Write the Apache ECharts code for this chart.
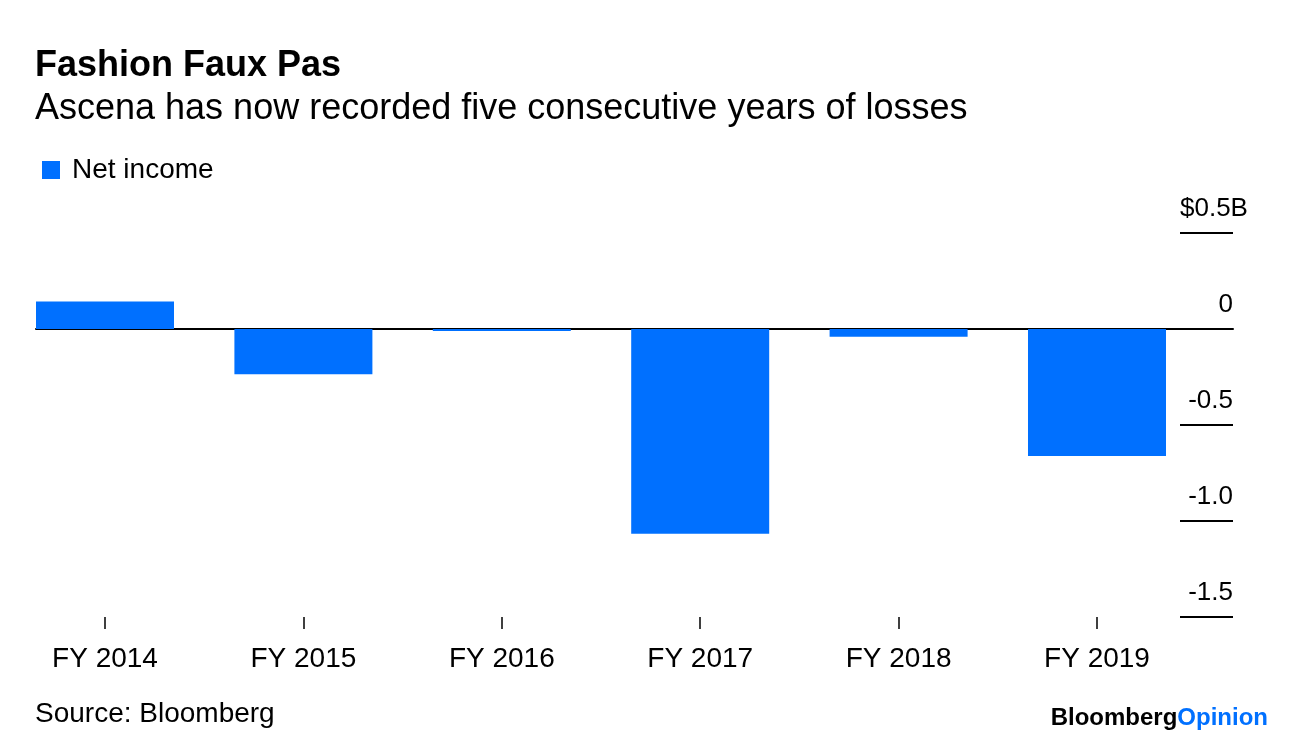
<!DOCTYPE html>
<html>
<head>
<meta charset="utf-8">
<script src="https://cdn.jsdelivr.net/npm/echarts@6/dist/echarts.min.js"></script>
<style>html,body{margin:0;padding:0;background:#fff}#c{width:1296px;height:740px}</style>
</head>
<body>
<div id="c"></div>
<script>
const categories = ['FY 2014', 'FY 2015', 'FY 2016', 'FY 2017', 'FY 2018', 'FY 2019'];
const netIncome = [0.143, -0.236, -0.011, -1.067, -0.040, -0.661];
const yTicks = [-1.5, -1.0, -0.5, 0, 0.5];
const yTickLabels = ['-1.5', '-1.0', '-0.5', '0', '$0.5B'];

const FONT = '"Liberation Sans", Arial, sans-serif';
const BLUE = '#0070ff';
const positions = categories.map((c, i) => i);

const chart = echarts.init(document.getElementById('c'));
chart.setOption({
  backgroundColor: '#fff',
  animation: false,
  textStyle: { fontFamily: FONT },
  title: [
    { text: 'Fashion Faux Pas', left: 35, top: 48, padding: 0,
      textStyle: { fontFamily: FONT, fontSize: 36, fontWeight: 'bold', color: '#000' } },
    { text: 'Ascena has now recorded five consecutive years of losses', left: 35, top: 91, padding: 0,
      textStyle: { fontFamily: FONT, fontSize: 36, fontWeight: 'normal', color: '#000' } },
    { text: 'Source: Bloomberg', left: 35, top: 700, padding: 0,
      textStyle: { fontFamily: FONT, fontSize: 28, fontWeight: 'normal', color: '#000' } },
    { text: '{a|Bloomberg}{b|Opinion}', right: 28, top: 706, padding: 0,
      textStyle: { rich: {
        a: { fontFamily: FONT, fontSize: 24, fontWeight: 'bold', color: '#000' },
        b: { fontFamily: FONT, fontSize: 24, fontWeight: 'bold', color: BLUE }
      } } }
  ],
  legend: {
    left: 42, top: 156, padding: 0,
    itemWidth: 18, itemHeight: 18, itemGap: 20,
    icon: 'rect',
    textStyle: { fontFamily: FONT, fontSize: 28, color: '#000', padding: [0, 0, 0, 7] },
    data: ['Net income']
  },
  grid: { left: 36, right: 63, top: 233, bottom: 123, containLabel: false },
  xAxis: [
    { type: 'value', min: -0.3478, max: 5.6855,
      axisLine: { show: true, onZero: true, lineStyle: { color: '#000', width: 2 } },
      axisTick: { show: false }, axisLabel: { show: false }, splitLine: { show: false } },
    { type: 'value', min: -0.3478, max: 5.6855, position: 'bottom',
      axisLine: { show: false, onZero: false },
      axisTick: { show: true, customValues: positions, length: 12, lineStyle: { color: '#000', width: 1.5 } },
      axisLabel: { show: true, customValues: positions, margin: 28,
        formatter: v => categories[Math.round(v)] || '',
        fontFamily: FONT, fontSize: 28, color: '#000' },
      splitLine: { show: false } }
  ],
  yAxis: {
    type: 'value', position: 'right', min: -1.5, max: 0.5, interval: 0.5,
    axisLine: { show: false, onZero: false },
    axisTick: { show: true, inside: true, length: 53, lineStyle: { color: '#000', width: 2 } },
    splitLine: { show: false },
    axisLabel: {
      margin: -53,
      verticalAlign: 'bottom',
      padding: [0, 0, 11, 0],
      formatter: v => {
        const i = yTicks.findIndex(t => Math.abs(t - v) < 1e-9);
        const s = i >= 0 ? yTickLabels[i] : '';
        return v > 0.25 ? '{l|' + s + '}' : '{n|' + s + '}';
      },
      rich: {
        n: { width: 53, align: 'right', fontFamily: FONT, fontSize: 26, color: '#000' },
        l: { width: 80, align: 'left', fontFamily: FONT, fontSize: 26, color: '#000' }
      }
    }
  },
  series: [{
    name: 'Net income', type: 'bar', xAxisIndex: 0,
    barWidth: 138,
    itemStyle: { color: BLUE },
    data: netIncome.map((v, i) => [positions[i], v])
  }]
});
</script>
</body>
</html>
